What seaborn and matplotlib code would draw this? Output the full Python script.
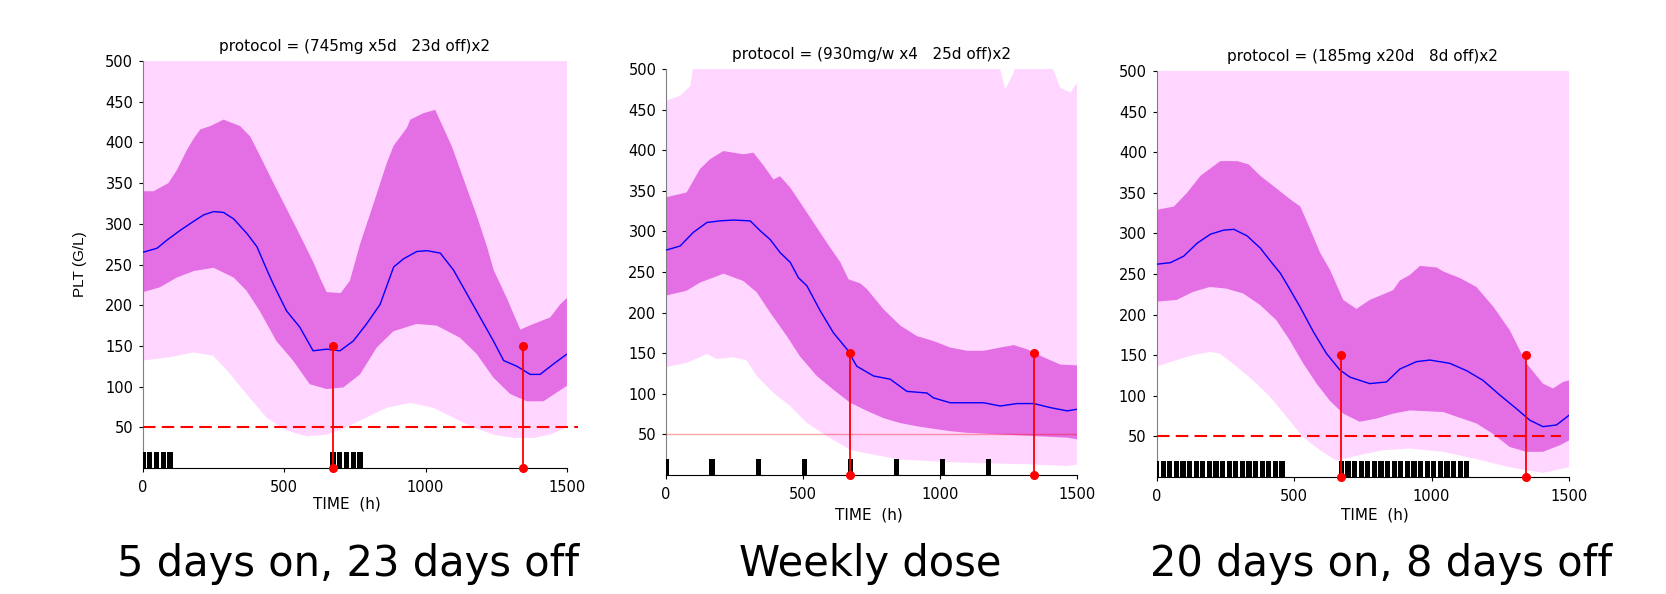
import numpy as np
import pandas as pd
import matplotlib
matplotlib.use('Agg')
import matplotlib.pyplot as plt
import seaborn as sns

sns.set_style('ticks')
plt.rcParams['font.family'] = ['DejaVu Sans']
plt.rcParams['text.color'] = 'black'
plt.rcParams['axes.labelcolor'] = 'black'
plt.rcParams['xtick.color'] = 'black'
plt.rcParams['ytick.color'] = 'black'

LIGHT = '#FFD6FF'
DARK = '#E46EE4'

# ---- panel 1 : 5 days on, 23 days off ----
T1_MED = [0, 50, 85, 132, 179, 215, 250, 285, 321, 368, 403, 439, 461, 508, 555, 602, 650, 697, 744,
          791, 839, 887, 922, 969, 1005, 1052, 1099, 1146, 1193, 1240, 1276, 1323, 1370, 1405, 1453, 1500]
MED1 = [265, 270, 280, 292, 303, 311, 315, 314, 306, 288, 272, 243, 226, 193, 173, 144, 146, 144, 156,
        177, 201, 247, 257, 266, 267, 264, 243, 214, 185, 156, 132, 125, 115, 115, 128, 140]
T1_IU = [0, 38, 90, 120, 156, 180, 203, 238, 285, 344, 380, 415, 462, 509, 557, 604, 627, 650, 700, 732,
         769, 816, 863, 887, 934, 946, 993, 1034, 1093, 1123, 1182, 1217, 1241, 1287, 1335, 1382, 1441, 1476, 1500]
IU1 = [340, 340, 350, 366, 391, 405, 416, 420, 428, 420, 407, 383, 350, 318, 285, 252, 233, 216, 215, 230,
       276, 325, 375, 396, 418, 428, 436, 440, 395, 366, 309, 272, 243, 209, 170, 177, 185, 201, 209]
T1_IL = [0, 60, 120, 180, 250, 321, 366, 413, 472, 531, 590, 650, 709, 768, 827, 886, 968, 1039,
         1122, 1181, 1240, 1299, 1358, 1417, 1465, 1500]
IL1 = [216, 222, 234, 242, 246, 234, 218, 193, 156, 132, 103, 97, 99, 115, 148, 168, 177, 175,
       160, 140, 111, 91, 82, 82, 93, 101]
T1_OU = [0, 1500]
OU1 = [530, 530]
T1_OL = [0, 94, 177, 248, 295, 366, 437, 508, 579, 650, 720, 791, 862, 945, 1027, 1098, 1169, 1240,
         1311, 1382, 1441, 1500]
OL1 = [132, 136, 142, 138, 121, 91, 62, 46, 39, 41, 50, 62, 74, 80, 74, 62, 50, 41, 37, 37, 41, 50]
DOSE_DAYS1 = [0, 1, 2, 3, 4, 28, 29, 30, 31, 32]

# ---- panel 2 : weekly dose ----
T2_MED = [0, 51, 100, 149, 197, 246, 307, 343, 380, 416, 453, 483, 514, 563, 611, 660, 696, 757, 818,
          879, 952, 976, 1037, 1098, 1159, 1220, 1281, 1342, 1403, 1464, 1500]
MED2 = [277, 282, 299, 311, 313, 314, 313, 301, 290, 274, 262, 243, 233, 202, 175, 155, 134, 122, 118,
        103, 101, 95, 89, 89, 89, 85, 88, 88, 83, 79, 81]
T2_IU = [0, 75, 124, 161, 209, 246, 282, 319, 356, 392, 416, 453, 489, 538, 587, 636, 666, 709, 733,
         794, 855, 916, 976, 1037, 1098, 1159, 1220, 1269, 1317, 1378, 1439, 1500]
IU2 = [342, 348, 377, 389, 399, 397, 395, 397, 381, 364, 368, 354, 336, 311, 286, 262, 241, 236, 229,
       204, 184, 171, 165, 157, 153, 153, 157, 160, 155, 145, 136, 135]
T2_IL = [0, 75, 124, 210, 282, 331, 380, 441, 489, 550, 611, 672, 733, 794, 855, 916, 976, 1037,
         1098, 1220, 1342, 1464, 1500]
IL2 = [221, 227, 237, 248, 239, 225, 200, 171, 146, 122, 105, 89, 79, 70, 64, 60, 57, 54,
       52, 50, 48, 46, 44]
T2_OU = [0, 51, 88, 112, 1196, 1238, 1269, 1293, 1378, 1439, 1476, 1500]
OU2 = [461, 467, 479, 530, 530, 475, 496, 530, 530, 477, 471, 483]
T2_OL = [0, 75, 149, 185, 246, 295, 331, 392, 453, 514, 587, 672, 757, 855, 976, 1098, 1220, 1342,
         1464, 1500]
OL2 = [133, 138, 149, 143, 145, 141, 122, 101, 85, 64, 48, 31, 25, 19, 17, 15, 14, 13, 11, 13]
DOSE_DAYS2 = [0, 7, 14, 21, 28, 35, 42, 49]

# ---- panel 3 : 20 days on, 8 days off ----
T3_MED = [0, 51, 99, 148, 196, 244, 281, 329, 377, 414, 450, 473, 521, 570, 618, 666, 703, 775, 836,
          885, 945, 994, 1066, 1127, 1187, 1248, 1309, 1357, 1405, 1454, 1500]
MED3 = [262, 264, 272, 288, 299, 304, 305, 297, 282, 266, 251, 238, 210, 179, 152, 132, 123, 115, 117,
        133, 142, 144, 140, 131, 119, 101, 84, 70, 62, 64, 76]
T3_IU = [0, 63, 111, 160, 232, 293, 335, 377, 426, 486, 523, 559, 595, 631, 679, 727, 775, 860, 885,
         922, 958, 1019, 1043, 1103, 1163, 1224, 1284, 1345, 1405, 1442, 1478, 1500]
IU3 = [329, 333, 350, 371, 389, 389, 385, 371, 358, 342, 333, 305, 276, 255, 218, 207, 218, 230, 242,
       249, 260, 258, 253, 245, 234, 210, 181, 140, 115, 109, 117, 119]
T3_IL = [0, 73, 133, 194, 254, 315, 376, 436, 485, 533, 582, 630, 679, 739, 800, 860, 921, 1042,
         1163, 1224, 1284, 1345, 1405, 1466, 1500]
IL3 = [216, 218, 228, 234, 232, 226, 212, 193, 168, 140, 115, 94, 78, 68, 72, 78, 82, 80,
       66, 53, 37, 31, 31, 39, 45]
T3_OU = [0, 1500]
OU3 = [530, 530]
T3_OL = [0, 73, 133, 194, 230, 291, 351, 412, 473, 533, 594, 654, 739, 824, 921, 1042, 1163, 1284,
         1405, 1500]
OL3 = [136, 144, 150, 154, 152, 136, 119, 99, 74, 49, 33, 20, 27, 33, 35, 31, 22, 12, 5, 12]
DOSE_DAYS3 = [0, 1, 2, 3, 4, 5, 6, 7, 8, 9, 10, 11, 12, 13, 14, 15, 16, 17, 18, 19,
              28, 29, 30, 31, 32, 33, 34, 35, 36, 37, 38, 39, 40, 41, 42, 43, 44, 45, 46, 47]

TITLES = ['protocol = (745mg x5d   23d off)x2',
          'protocol = (930mg/w x4   25d off)x2',
          'protocol = (185mg x20d   8d off)x2']
CAPTIONS = ['5 days on, 23 days off', 'Weekly dose', '20 days on, 8 days off']
CYCLE_ENDS = [672, 1344]
THRESHOLD = 50


def band(ax, t_lo, lo, t_hi, hi, color):
    xs = list(t_lo) + list(t_hi)[::-1]
    ys = list(lo) + list(hi)[::-1]
    ax.fill(xs, ys, color=color, lw=0, zorder=1)


def panel(ax, title, t_med, med, t_ou, ou, t_ol, ol, t_iu, iu, t_il, il, dose_days):
    band(ax, t_ol, ol, t_ou, ou, LIGHT)
    band(ax, t_il, il, t_iu, iu, DARK)
    df = pd.DataFrame({'t': t_med, 'plt': med})
    sns.lineplot(data=df, x='t', y='plt', color='#0000FF', lw=1, ax=ax, zorder=3)
    ax.bar([d * 24 for d in dose_days], 20, width=19, color='black', linewidth=0, zorder=4)
    for c in CYCLE_ENDS:
        ax.plot([c, c], [0, 150], color='red', lw=1.3, marker='o', ms=5.5, zorder=5, clip_on=False)
    ax.set_xlim(0, 1500)
    ax.set_ylim(0, 500)
    ax.set_xticks([0, 500, 1000, 1500])
    ax.set_yticks([50, 100, 150, 200, 250, 300, 350, 400, 450, 500])
    ax.tick_params(axis='both', labelsize=10.5, length=3, width=0.8, direction='out')
    ax.tick_params(axis='x', pad=5.5)
    ax.tick_params(axis='y', pad=4)
    sns.despine(ax=ax)
    ax.spines['left'].set_color('#808080')
    ax.spines['bottom'].set_color('black')
    ax.set_title(title, fontsize=11, pad=7)
    ax.set_ylabel('')


fig = plt.figure(figsize=(16.66, 5.94), dpi=100)
ax1 = fig.add_axes([0.0858, 0.2121, 0.2545, 0.6852])
ax2 = fig.add_axes([0.3998, 0.2003, 0.2467, 0.6835])
ax3 = fig.add_axes([0.6942, 0.1970, 0.2476, 0.6835])

panel(ax1, TITLES[0], T1_MED, MED1, T1_OU, OU1, T1_OL, OL1, T1_IU, IU1, T1_IL, IL1, DOSE_DAYS1)
panel(ax2, TITLES[1], T2_MED, MED2, T2_OU, OU2, T2_OL, OL2, T2_IU, IU2, T2_IL, IL2, DOSE_DAYS2)
panel(ax3, TITLES[2], T3_MED, MED3, T3_OU, OU3, T3_OL, OL3, T3_IU, IU3, T3_IL, IL3, DOSE_DAYS3)

# threshold lines
ax1.plot([0, 1540], [THRESHOLD, THRESHOLD], color='red', lw=1.5, ls=(0, (6, 3)), zorder=6, clip_on=False)
ax2.axhline(THRESHOLD, color='red', lw=1, alpha=0.35, zorder=6)
ax3.plot([0, 1470], [THRESHOLD, THRESHOLD], color='red', lw=1.5, ls=(0, (6, 3)), zorder=6)

ax1.set_ylabel('PLT (G/L)', fontsize=11, family=['Liberation Sans', 'DejaVu Sans'])
ax1.yaxis.set_label_coords(-0.132, 0.5)

for ax, xc, yc in [(ax1, 0.481, -0.069), (ax2, 0.494, -0.081), (ax3, 0.53, -0.076)]:
    ax.set_xlabel('TIME  (h)', fontsize=11)
    ax.xaxis.set_label_coords(xc, yc)

for cap, xc in zip(CAPTIONS, [348, 870, 1381]):
    fig.text(xc / 1666, 1 - 576 / 594, cap, ha='center', va='baseline', fontsize=30)

fig.savefig('out.png', dpi=100)
